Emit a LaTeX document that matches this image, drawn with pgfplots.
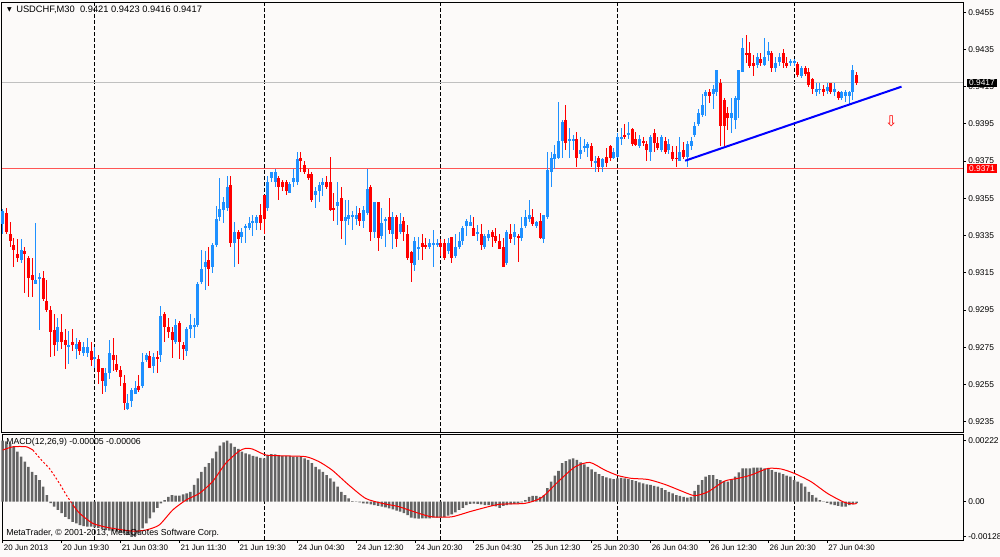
\documentclass[border=0pt]{standalone}
\usepackage{fontspec}
\setmainfont{Liberation Sans}
\newfontfamily\dejavu{DejaVu Sans}
\usepackage{pgfplots}
\usepackage{pgfplotstable}
\pgfplotsset{compat=1.18}
\definecolor{bg}{RGB}{252,250,249}
\definecolor{cup}{RGB}{30,144,255}
\definecolor{cdn}{RGB}{255,0,0}
\definecolor{hgray}{RGB}{100,100,100}
\definecolor{lgray}{RGB}{192,192,192}
\definecolor{rline}{RGB}{255,85,85}
\newcommand\tf{\fontsize{6.3}{7.5}\selectfont}
\newcommand\xf{\fontsize{6.0}{7.2}\selectfont}
\newcommand\ttf{\fontsize{7.0}{8.4}\selectfont}
\newcommand\mf{\fontsize{6.55}{7.8}\selectfont}

% up candles: bar index, open, high, low, close
\pgfplotstableread{
i o h l c
0 0.9341 0.9349 0.9336 0.9348
5 0.9322 0.9333 0.9320 0.9327
9 0.9309 0.9342 0.9309 0.9311
10 0.9312 0.9315 0.9284 0.9313
15 0.9278 0.9291 0.9273 0.9286
18 0.9275 0.9284 0.9266 0.9276
20 0.9274 0.9280 0.9269 0.9277
22 0.9272 0.9278 0.9270 0.9275
23 0.9272 0.9280 0.9270 0.9275
25 0.9269 0.9275 0.9264 0.9270
28 0.9254 0.9264 0.9251 0.9261
29 0.9261 0.9279 0.9258 0.9272
34 0.9242 0.9250 0.9241 0.9245
35 0.9246 0.9253 0.9243 0.9252
36 0.9250 0.9257 0.9250 0.9253
38 0.9254 0.9272 0.9253 0.9267
39 0.9268 0.9272 0.9267 0.9271
41 0.9265 0.9272 0.9261 0.9270
43 0.9271 0.9297 0.9267 0.9292
47 0.9278 0.9290 0.9277 0.9287
50 0.9273 0.9286 0.9270 0.9285
51 0.9285 0.9293 0.9280 0.9287
52 0.9286 0.9291 0.9280 0.9287
53 0.9287 0.9310 0.9286 0.9309
54 0.9310 0.9327 0.9309 0.9317
55 0.9318 0.9327 0.9306 0.9321
57 0.9318 0.9331 0.9315 0.9330
58 0.9330 0.9351 0.9329 0.9344
59 0.9345 0.9366 0.9343 0.9349
60 0.9349 0.9356 0.9342 0.9353
61 0.9350 0.9367 0.9348 0.9361
63 0.9331 0.9342 0.9318 0.9337
65 0.9334 0.9339 0.9331 0.9337
66 0.9339 0.9341 0.9331 0.9340
67 0.9339 0.9345 0.9338 0.9342
68 0.9342 0.9346 0.9335 0.9343
69 0.9342 0.9346 0.9338 0.9345
72 0.9350 0.9367 0.9348 0.9364
73 0.9366 0.9369 0.9364 0.9369
74 0.9364 0.9371 0.9361 0.9369
78 0.9358 0.9364 0.9358 0.9363
79 0.9364 0.9371 0.9361 0.9366
80 0.9364 0.9380 0.9362 0.9376
85 0.9357 0.9361 0.9350 0.9359
86 0.9359 0.9364 0.9353 0.9362
87 0.9362 0.9366 0.9356 0.9364
91 0.9351 0.9364 0.9341 0.9353
93 0.9343 0.9354 0.9330 0.9345
94 0.9344 0.9354 0.9341 0.9346
95 0.9345 0.9348 0.9338 0.9346
96 0.9344 0.9351 0.9341 0.9346
98 0.9343 0.9351 0.9339 0.9349
99 0.9347 0.9371 0.9346 0.9360
101 0.9337 0.9353 0.9334 0.9353
103 0.9335 0.9350 0.9333 0.9342
104 0.9343 0.9345 0.9329 0.9344
106 0.9336 0.9348 0.9328 0.9345
108 0.9337 0.9347 0.9336 0.9341
112 0.9319 0.9334 0.9316 0.9332
113 0.9328 0.9334 0.9322 0.9329
116 0.9329 0.9333 0.9328 0.9331
117 0.9330 0.9338 0.9318 0.9331
118 0.9330 0.9333 0.9329 0.9331
121 0.9327 0.9334 0.9325 0.9331
123 0.9324 0.9336 0.9323 0.9329
124 0.9329 0.9337 0.9328 0.9332
125 0.9332 0.9340 0.9330 0.9339
126 0.9340 0.9344 0.9335 0.9343
127 0.9340 0.9346 0.9340 0.9342
129 0.9336 0.9341 0.9332 0.9337
131 0.9329 0.9336 0.9328 0.9335
132 0.9334 0.9338 0.9332 0.9336
137 0.9320 0.9338 0.9319 0.9337
139 0.9334 0.9341 0.9330 0.9337
141 0.9334 0.9345 0.9332 0.9339
142 0.9340 0.9349 0.9339 0.9345
143 0.9344 0.9354 0.9342 0.9346
145 0.9340 0.9343 0.9339 0.9342
147 0.9333 0.9346 0.9331 0.9346
148 0.9345 0.9380 0.9344 0.9370
149 0.9369 0.9380 0.9361 0.9377
150 0.9376 0.9384 0.9371 0.9379
151 0.9377 0.9407 0.9376 0.9386
152 0.9386 0.9397 0.9377 0.9396
154 0.9386 0.9393 0.9377 0.9387
155 0.9386 0.9389 0.9381 0.9387
157 0.9379 0.9388 0.9376 0.9381
158 0.9382 0.9387 0.9380 0.9383
159 0.9382 0.9385 0.9377 0.9384
161 0.9374 0.9378 0.9369 0.9375
163 0.9372 0.9377 0.9369 0.9376
166 0.9377 0.9382 0.9376 0.9380
167 0.9377 0.9390 0.9377 0.9388
168 0.9387 0.9393 0.9384 0.9388
170 0.9389 0.9396 0.9387 0.9390
173 0.9383 0.9389 0.9382 0.9387
176 0.9380 0.9389 0.9375 0.9388
179 0.9381 0.9389 0.9380 0.9388
181 0.9381 0.9387 0.9379 0.9384
184 0.9375 0.9388 0.9375 0.9380
186 0.9377 0.9386 0.9372 0.9384
187 0.9383 0.9388 0.9381 0.9386
188 0.9389 0.9396 0.9388 0.9394
189 0.9395 0.9403 0.9394 0.9401
190 0.9400 0.9411 0.9399 0.9405
191 0.9410 0.9413 0.9399 0.9412
193 0.9411 0.9416 0.9403 0.9414
194 0.9412 0.9424 0.9410 0.9424
198 0.9398 0.9409 0.9390 0.9401
199 0.9397 0.9410 0.9392 0.9409
200 0.9408 0.9424 0.9398 0.9424
201 0.9423 0.9441 0.9423 0.9436
205 0.9427 0.9433 0.9425 0.9431
207 0.9427 0.9441 0.9426 0.9431
208 0.9432 0.9439 0.9429 0.9434
210 0.9425 0.9431 0.9423 0.9428
211 0.9428 0.9433 0.9426 0.9431
214 0.9428 0.9430 0.9426 0.9429
215 0.9428 0.9430 0.9426 0.9429
217 0.9421 0.9426 0.9420 0.9425
221 0.9412 0.9417 0.9410 0.9414
222 0.9413 0.9417 0.9411 0.9414
224 0.9413 0.9417 0.9411 0.9415
226 0.9412 0.9417 0.9410 0.9414
228 0.9409 0.9413 0.9408 0.9412
229 0.9410 0.9413 0.9407 0.9412
230 0.9410 0.9413 0.9405 0.9412
231 0.9412 0.9427 0.9408 0.9424
}\up

% down candles
\pgfplotstableread{
i o h l c
1 0.9347 0.9350 0.9336 0.9337
2 0.9336 0.9342 0.9329 0.9332
3 0.9330 0.9334 0.9318 0.9327
4 0.9325 0.9333 0.9321 0.9323
6 0.9327 0.9329 0.9304 0.9325
7 0.9323 0.9324 0.9302 0.9312
8 0.9314 0.9323 0.9302 0.9311
11 0.9312 0.9316 0.9300 0.9301
12 0.9300 0.9311 0.9294 0.9295
13 0.9295 0.9297 0.9270 0.9283
14 0.9284 0.9293 0.9270 0.9276
16 0.9283 0.9293 0.9274 0.9278
17 0.9279 0.9285 0.9263 0.9276
19 0.9278 0.9285 0.9273 0.9276
21 0.9278 0.9279 0.9271 0.9273
24 0.9273 0.9278 0.9265 0.9268
26 0.9269 0.9271 0.9255 0.9262
27 0.9264 0.9264 0.9250 0.9257
30 0.9271 0.9280 0.9262 0.9268
31 0.9266 0.9271 0.9262 0.9263
32 0.9263 0.9265 0.9254 0.9259
33 0.9256 0.9260 0.9241 0.9245
37 0.9254 0.9260 0.9251 0.9252
40 0.9270 0.9273 0.9264 0.9264
42 0.9270 0.9273 0.9261 0.9269
44 0.9293 0.9294 0.9278 0.9286
45 0.9286 0.9291 0.9280 0.9283
46 0.9283 0.9286 0.9269 0.9279
48 0.9288 0.9289 0.9269 0.9278
49 0.9276 0.9278 0.9268 0.9274
56 0.9322 0.9329 0.9308 0.9317
62 0.9362 0.9367 0.9329 0.9331
64 0.9337 0.9338 0.9320 0.9333
70 0.9346 0.9352 0.9338 0.9342
71 0.9357 0.9357 0.9336 0.9344
75 0.9366 0.9367 0.9354 0.9361
76 0.9364 0.9365 0.9359 0.9361
77 0.9364 0.9365 0.9357 0.9359
81 0.9377 0.9380 0.9369 0.9375
82 0.9373 0.9375 0.9368 0.9369
83 0.9368 0.9371 0.9365 0.9366
84 0.9368 0.9369 0.9353 0.9354
88 0.9364 0.9367 0.9360 0.9361
89 0.9364 0.9377 0.9348 0.9349
90 0.9350 0.9358 0.9343 0.9349
92 0.9355 0.9361 0.9333 0.9343
97 0.9347 0.9350 0.9340 0.9343
100 0.9361 0.9362 0.9332 0.9337
102 0.9353 0.9353 0.9327 0.9334
105 0.9345 0.9355 0.9336 0.9338
107 0.9345 0.9346 0.9329 0.9333
109 0.9343 0.9345 0.9332 0.9337
110 0.9336 0.9341 0.9322 0.9323
111 0.9326 0.9327 0.9310 0.9320
114 0.9331 0.9336 0.9322 0.9329
115 0.9330 0.9334 0.9328 0.9329
119 0.9331 0.9333 0.9324 0.9329
120 0.9331 0.9333 0.9322 0.9323
122 0.9334 0.9334 0.9320 0.9323
128 0.9339 0.9345 0.9335 0.9335
130 0.9336 0.9341 0.9327 0.9330
133 0.9337 0.9338 0.9329 0.9334
134 0.9335 0.9339 0.9331 0.9332
135 0.9332 0.9336 0.9328 0.9328
136 0.9329 0.9334 0.9318 0.9318
138 0.9336 0.9341 0.9331 0.9333
140 0.9335 0.9336 0.9321 0.9334
144 0.9345 0.9349 0.9340 0.9341
146 0.9343 0.9347 0.9333 0.9334
153 0.9397 0.9405 0.9381 0.9385
156 0.9387 0.9391 0.9372 0.9377
160 0.9383 0.9385 0.9372 0.9375
162 0.9377 0.9378 0.9369 0.9372
164 0.9377 0.9382 0.9372 0.9374
165 0.9383 0.9384 0.9375 0.9377
169 0.9389 0.9395 0.9387 0.9388
171 0.9392 0.9393 0.9383 0.9384
172 0.9387 0.9391 0.9383 0.9384
174 0.9386 0.9388 0.9383 0.9385
175 0.9384 0.9386 0.9375 0.9381
177 0.9390 0.9392 0.9380 0.9385
178 0.9385 0.9388 0.9381 0.9382
180 0.9386 0.9388 0.9379 0.9380
182 0.9380 0.9383 0.9375 0.9376
183 0.9377 0.9383 0.9372 0.9376
185 0.9381 0.9385 0.9376 0.9377
192 0.9412 0.9414 0.9406 0.9410
195 0.9417 0.9419 0.9383 0.9394
196 0.9408 0.9409 0.9383 0.9394
197 0.9401 0.9404 0.9392 0.9398
202 0.9433 0.9443 0.9428 0.9432
203 0.9433 0.9439 0.9425 0.9426
204 0.9428 0.9432 0.9421 0.9426
206 0.9430 0.9433 0.9426 0.9428
209 0.9433 0.9434 0.9423 0.9425
212 0.9433 0.9435 0.9425 0.9428
213 0.9428 0.9431 0.9425 0.9426
216 0.9427 0.9428 0.9420 0.9421
218 0.9425 0.9426 0.9421 0.9422
219 0.9423 0.9425 0.9415 0.9416
220 0.9419 0.9420 0.9411 0.9414
223 0.9414 0.9416 0.9410 0.9412
225 0.9417 0.9417 0.9411 0.9412
227 0.9412 0.9413 0.9408 0.9409
232 0.9421 0.9423 0.9416 0.9417
}\down

% MACD main (histogram)
\pgfplotstableread{
i m
0 0.00222
1 0.00220
2 0.00212
3 0.00200
4 0.00182
5 0.00164
6 0.00146
7 0.00127
8 0.00109
9 0.00097
10 0.00079
11 0.00055
12 0.00024
13 -0.00005
14 -0.00018
15 -0.00030
16 -0.00042
17 -0.00055
18 -0.00063
19 -0.00073
20 -0.00079
21 -0.00085
22 -0.00089
23 -0.00091
24 -0.00091
25 -0.00093
26 -0.00095
27 -0.00100
28 -0.00103
29 -0.00105
30 -0.00107
31 -0.00109
32 -0.00112
33 -0.00115
34 -0.00121
35 -0.00128
36 -0.00124
37 -0.00115
38 -0.00097
39 -0.00079
40 -0.00061
41 -0.00039
42 -0.00022
43 -0.00006
44 0.00006
45 0.00018
46 0.00024
47 0.00022
48 0.00022
49 0.00027
50 0.00030
51 0.00036
52 0.00061
53 0.00085
54 0.00109
55 0.00127
56 0.00140
57 0.00158
58 0.00182
59 0.00204
60 0.00216
61 0.00222
62 0.00212
63 0.00200
64 0.00192
65 0.00182
66 0.00176
67 0.00172
68 0.00167
69 0.00164
70 0.00160
71 0.00158
72 0.00170
73 0.00173
74 0.00172
75 0.00170
76 0.00167
77 0.00167
78 0.00166
79 0.00164
80 0.00164
81 0.00164
82 0.00158
83 0.00152
84 0.00140
85 0.00127
86 0.00118
87 0.00109
88 0.00097
89 0.00085
90 0.00073
91 0.00055
92 0.00036
93 0.00024
94 0.00012
95 0.00002
96 0.00001
97 -0.00002
98 -0.00006
99 -0.00007
100 -0.00010
101 -0.00012
102 -0.00015
103 -0.00018
104 -0.00021
105 -0.00024
106 -0.00028
107 -0.00032
108 -0.00036
109 -0.00042
110 -0.00049
111 -0.00058
112 -0.00061
113 -0.00062
114 -0.00061
115 -0.00061
116 -0.00061
117 -0.00058
118 -0.00058
119 -0.00058
120 -0.00056
121 -0.00051
122 -0.00046
123 -0.00039
124 -0.00030
125 -0.00022
126 -0.00012
127 -0.00008
128 -0.00007
129 -0.00008
130 -0.00010
131 -0.00012
132 -0.00012
133 -0.00015
134 -0.00017
135 -0.00022
136 -0.00015
137 -0.00012
138 -0.00010
139 -0.00008
140 -0.00007
141 -0.00002
142 0.00006
143 0.00018
144 0.00021
145 0.00021
146 0.00018
147 0.00024
148 0.00049
149 0.00073
150 0.00095
151 0.00112
152 0.00140
153 0.00148
154 0.00154
155 0.00158
156 0.00152
157 0.00143
158 0.00136
159 0.00127
160 0.00118
161 0.00109
162 0.00100
163 0.00093
164 0.00089
165 0.00085
166 0.00082
167 0.00085
168 0.00087
169 0.00085
170 0.00082
171 0.00079
172 0.00075
173 0.00070
174 0.00067
175 0.00063
176 0.00061
177 0.00058
178 0.00055
179 0.00049
180 0.00042
181 0.00036
182 0.00030
183 0.00024
184 0.00021
185 0.00018
186 0.00015
187 0.00018
188 0.00039
189 0.00061
190 0.00079
191 0.00091
192 0.00097
193 0.00097
194 0.00082
195 0.00079
196 0.00075
197 0.00073
198 0.00079
199 0.00091
200 0.00107
201 0.00121
202 0.00121
203 0.00121
204 0.00124
205 0.00124
206 0.00124
207 0.00121
208 0.00119
209 0.00115
210 0.00109
211 0.00106
212 0.00100
213 0.00095
214 0.00091
215 0.00079
216 0.00073
217 0.00067
218 0.00055
219 0.00036
220 0.00024
221 0.00015
222 0.00006
223 0.00001
224 -0.00004
225 -0.00010
226 -0.00012
227 -0.00015
228 -0.00018
229 -0.00018
230 -0.00012
231 -0.00010
232 -0.00005
}\macd

\pgfplotsset{
  wick/.style={draw=none, mark=none, error bars/.cd, y dir=both, y explicit, error mark=none,
    error bar style={draw=#1, line width=0.75pt}},
  body/.style={draw=none, mark=none, error bars/.cd, y dir=both, y explicit, error mark=none,
    error bar style={draw=#1, line width=2.25pt}},
}

\begin{document}
\begin{tikzpicture}
\fill[bg] (0,0) rectangle (750pt,-417.75pt);
\useasboundingbox (0,0) rectangle (750pt,-417.75pt);

% ---------------- main price panel ----------------
\begin{axis}[
  name=main, at={(1.5pt,-1.5pt)}, anchor=north west,
  scale only axis, width=720.75pt, height=322.5pt,
  xmin=-0.19, xmax=260.9, ymin=0.92294, ymax=0.94605,
  clip=false,
  axis background/.style={fill=bg},
  axis line style={line width=0.75pt, black},
  xtick=\empty,
  ytick={0.9235,0.9255,0.9275,0.9295,0.9315,0.9335,0.9355,0.9375,0.9395,0.9415,0.9435,0.9455},
  yticklabels={0.9235,0.9255,0.9275,0.9295,0.9315,0.9335,0.9355,0.9375,0.9395,0.9415,0.9435,0.9455},
  ytick pos=right, yticklabel pos=right, tick align=outside,
  major tick length=2.25pt, tick style={line width=0.6pt, black},
  yticklabel style={font=\tf, anchor=west, inner sep=0pt, xshift=1.5pt},
  scaled y ticks=false,
]
% day separators
\pgfplotsinvokeforeach{25,71,119,167,215}{
  \addplot[black, line width=0.75pt, dash pattern=on 3pt off 1.5pt] coordinates {(#1,0.92294) (#1,0.94605)};
}
% horizontal lines
\addplot[lgray, line width=0.75pt] coordinates {(-0.19,0.9417) (260.9,0.9417)};
\addplot[rline, line width=1.3pt] coordinates {(-0.19,0.9371) (260.9,0.9371)};
% wicks
\addplot[wick=cup]
  table[x=i, y expr={(\thisrow{h}+\thisrow{l})/2}, y error expr={(\thisrow{h}-\thisrow{l})/2}] {\up};
\addplot[wick=cdn]
  table[x=i, y expr={(\thisrow{h}+\thisrow{l})/2}, y error expr={(\thisrow{h}-\thisrow{l})/2}] {\down};
% bodies
\addplot[body=cup]
  table[x=i, y expr={(\thisrow{o}+\thisrow{c})/2}, y error expr={abs(\thisrow{c}-\thisrow{o})/2}] {\up};
\addplot[body=cdn]
  table[x=i, y expr={(\thisrow{o}+\thisrow{c})/2}, y error expr={abs(\thisrow{c}-\thisrow{o})/2}] {\down};
% trend line
\addplot[blue, line width=1.5pt] coordinates {(185.4,0.93752) (244.2,0.94150)};
% arrow
\node[text=cdn, font=\dejavu\fontsize{11}{11}\selectfont, inner sep=0pt] at (axis cs:241.4,0.93966) {⇩};
% title
\node[anchor=west, inner sep=0pt, font=\ttf] at ([xshift=10.5pt,yshift=-6pt]rel axis cs:0,1) {USDCHF,M30\ \ 0.9421 0.9423 0.9416 0.9417};
\node[anchor=center, inner sep=0pt, font=\dejavu\fontsize{4.5}{5}\selectfont] at ([xshift=5.6pt,yshift=-6pt]rel axis cs:0,1) {▼};
\coordinate (pA) at (axis cs:260.9,0.9417);
\coordinate (pB) at (axis cs:260.9,0.9371);
\end{axis}
% price boxes
\node[fill=black, text=white, font=\tf, inner xsep=1.4pt, inner ysep=1pt, anchor=west] at ([xshift=3pt]pA) {0.9417};
\node[fill=cdn, text=white, font=\tf, inner xsep=1.4pt, inner ysep=1pt, anchor=west] at ([xshift=3pt]pB) {0.9371};

% ---------------- MACD panel ----------------
\begin{axis}[
  name=macdax, at={(1.5pt,-325.875pt)}, anchor=north west,
  scale only axis, width=720.75pt, height=79.125pt,
  xmin=-0.19, xmax=260.9, ymin=-0.001394, ymax=0.002446,
  clip=false,
  axis background/.style={fill=bg},
  axis line style={line width=0.75pt, black},
  xtick={0,16,32,48,64,80,96,112,128,144,160,176,192,208,224},
  xticklabels={20 Jun 2013,20 Jun 19:30,21 Jun 03:30,21 Jun 11:30,21 Jun 19:30,24 Jun 04:30,24 Jun 12:30,24 Jun 20:30,25 Jun 04:30,25 Jun 12:30,25 Jun 20:30,26 Jun 04:30,26 Jun 12:30,26 Jun 20:30,27 Jun 04:30},
  xtick pos=left, xticklabel pos=left,
  ytick={-0.00128,0,0.00222},
  yticklabels={-0.00128,0.00,0.00222},
  ytick pos=right, yticklabel pos=right, tick align=outside,
  major tick length=2.25pt, tick style={line width=0.6pt, black},
  yticklabel style={font=\tf, anchor=west, inner sep=0pt, xshift=1.5pt},
  xticklabel style={font=\xf, anchor=north west, inner sep=0pt, xshift=0.75pt, yshift=-1pt},
  scaled y ticks=false, scaled x ticks=false,
]
\pgfplotsinvokeforeach{25,71,119,167,215}{
  \addplot[black, line width=0.75pt, dash pattern=on 3pt off 1.5pt] coordinates {(#1,-0.001394) (#1,0.002446)};
}
\addplot[ybar, bar width=1.9pt, fill=hgray, draw=none, bar shift=0pt] table[x=i, y=m] {\macd};
\addplot[cdn, line width=0.75pt, smooth, tension=0.4] coordinates {(0,0.00188) (2.8,0.00200) (6.4,0.00200) (8.2,0.00188)};
\addplot[cdn, line width=0.75pt, smooth, tension=0.4, dash pattern=on 1.5pt off 1.5pt] coordinates {(8.2,0.00188) (10.9,0.00146) (12.7,0.00121) (15.4,0.00067) (17.3,0.00024) (19.1,-0.00012)};
\addplot[cdn, line width=0.75pt, smooth, tension=0.4] coordinates {(19.1,-0.00012) (20.9,-0.00042) (24.5,-0.00079) (29.0,-0.00095) (35.3,-0.00107) (38.9,-0.00103) (42.5,-0.00085) (46.2,-0.00030) (49.8,0.00006) (53.4,0.00030) (57.0,0.00073) (60.6,0.00140) (64.2,0.00184) (66.0,0.00194) (67.8,0.00192) (71.5,0.00170) (76.0,0.00167) (82.3,0.00164) (85.9,0.00146) (89.5,0.00115) (94.0,0.00061) (98.6,0.00012) (103.1,-0.00006) (107.6,-0.00018) (113.0,-0.00042) (116.6,-0.00055) (122.0,-0.00055) (127.5,-0.00034) (134.7,-0.00010) (141.9,-0.00006) (146.4,0.00015) (150.9,0.00073) (155.5,0.00127) (159.5,0.00143) (163.6,0.00115) (167.2,0.00095) (170.8,0.00085) (175.3,0.00081) (179.9,0.00063) (184.4,0.00039) (188.0,0.00022) (191.6,0.00036) (196.1,0.00075) (199.8,0.00085) (203.3,0.00097) (207.9,0.00121) (211.5,0.00119) (215.1,0.00103) (219.6,0.00073) (224.1,0.00030) (228.6,-0.00002) (231.3,-0.00008) (232,-0.00006)};
\node[anchor=west, inner sep=0pt, font=\mf] at ([xshift=3pt,yshift=-5.6pt]rel axis cs:0,1) {MACD(12,26,9) -0.00005 -0.00006};
\node[anchor=west, inner sep=0pt, font=\mf] at ([xshift=3pt,yshift=4.9pt]rel axis cs:0,0) {MetaTrader, © 2001-2013, MetaQuotes Software Corp.};
\end{axis}
\end{tikzpicture}
\end{document}
